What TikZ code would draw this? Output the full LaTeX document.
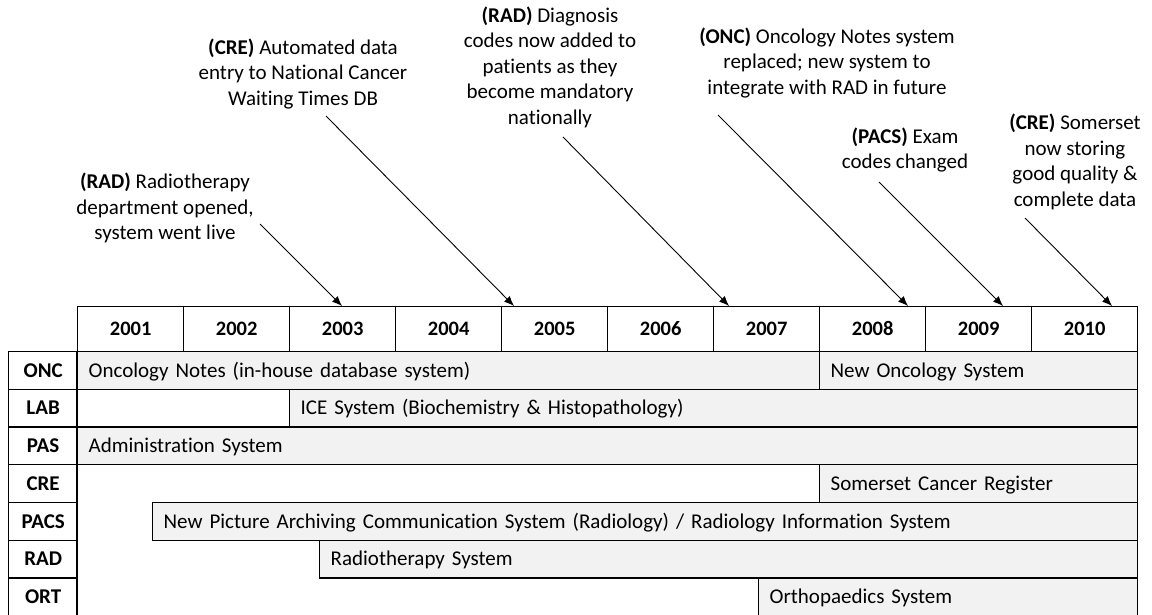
\documentclass[tikz,border=0pt]{standalone}
\usepackage{fontspec}
\setmainfont{Carlito}[Ligatures=NoCommon]
\usetikzlibrary{arrows.meta}
\definecolor{barfill}{HTML}{F2F2F2}
\tikzset{
  cell/.style={draw, line width=1.3pt, rectangle, inner sep=0pt, text height=13.5pt, text depth=0pt, font=\fontsize{21}{25.5}\selectfont\bfseries},
  yearcell/.style={cell, minimum width=106pt, minimum height=45pt, anchor=north west, text height=13.2pt, font=\fontsize{20.5}{25.5}\selectfont\bfseries},
  labcell/.style={cell, minimum width=69pt, minimum height=37.7pt, anchor=north west},
  sysbar/.style={draw, line width=1.3pt, fill=barfill, rectangle, anchor=north west,
     inner xsep=11pt, inner ysep=0pt, minimum height=37.7pt, text width=#1, align=left,
     text height=13.5pt, text depth=0pt},
  note/.style={align=center, inner sep=0pt},
  pointer/.style={line width=0.9pt, -{Latex[length=10pt,width=8pt]}},
}
\begin{document}
\begin{tikzpicture}[x=1pt, y=-1pt, font=\fontsize{21}{25.5}\selectfont]
\useasboundingbox (0,0) rectangle (1152,614);
\clip (0,0) rectangle (1152,614);
\fill[white] (0,0) rectangle (1152,614);
% header years
\foreach \yr [count=\i from 0] in {2001,...,2010}{
  \node[yearcell] (y\yr) at ({77+106*\i},306) {\yr};
}
% row labels
\foreach \lab [count=\i from 0] in {ONC,LAB,PAS,CRE,PACS,RAD,ORT}{
  \node[labcell] (l\lab) at (8,{351+37.7*\i}) {\lab};
}
% bars
\node[sysbar=720pt] (onc1) at (77,351) {Oncology Notes (in-house database system)};
\node[sysbar=296pt] (onc2) at (819,351) {New Oncology System};
\node[sysbar=826pt] (lab) at (289,388.7) {ICE System (Biochemistry \& Histopathology)};
\node[sysbar=1038pt] (pas) at (77,426.4) {Administration System};
\node[sysbar=296pt] (cre) at (819,464.1) {Somerset Cancer Register};
\node[sysbar=963pt] (pacs) at (152,501.8) {New Picture Archiving Communication System (Radiology) / Radiology Information System};
\node[sysbar=796pt] (rad) at (319,539.5) {Radiotherapy System};
\node[sysbar=357pt] (ort) at (758,577.2) {Orthopaedics System};
% left edge line of the bar area
\draw[line width=1.3pt] (77,351) -- (77,616);
% annotations
\node[note] (n1) at (165,208) {\textbf{(RAD)} Radiotherapy\\department opened,\\system went live};
\node[note] (n2) at (303,74) {\textbf{(CRE)} Automated data\\entry to National Cancer\\Waiting Times DB};
\node[note] (n3) at (550,67) {\textbf{(RAD)} Diagnosis\\codes now added to\\patients as they\\become mandatory\\nationally};
\node[note] (n4) at (827,63) {\textbf{(ONC)} Oncology Notes system\\replaced; new system to\\integrate with RAD in future};
\node[note] (n5) at (905,150) {\textbf{(PACS)} Exam\\codes changed};
\node[note] (n6) at (1075,162) {\textbf{(CRE)} Somerset\\now storing\\good quality \&\\complete data};
% arrow ends
\coordinate (s1) at (260,224); \coordinate (e1) at (342,306);
\coordinate (s2) at (326,116); \coordinate (e2) at (514,306);
\coordinate (s3) at (563,137); \coordinate (e3) at (729,306);
\coordinate (s4) at (718,115); \coordinate (e4) at (908,306);
\coordinate (s5) at (879,182); \coordinate (e5) at (1003,306);
\coordinate (s6) at (1025,218); \coordinate (e6) at (1112,306);
\foreach \k in {1,...,6}{ \draw[pointer] (s\k) -- (e\k); }
\end{tikzpicture}
\end{document}
